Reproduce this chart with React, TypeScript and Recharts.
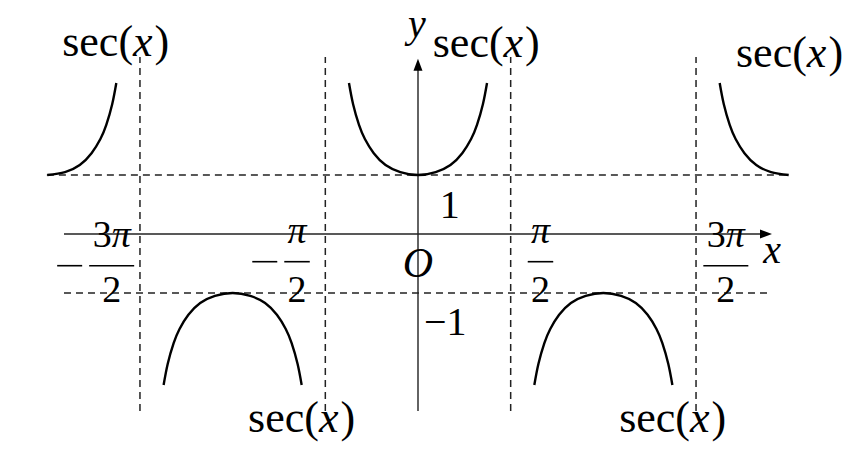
import { ComposedChart, Line, XAxis, YAxis, ReferenceLine, ReferenceDot } from "recharts";

const FONT = "Liberation Serif, DejaVu Serif, serif";
const INK = "#000";
const GUIDE = "#222";

// visible window of the plot (one unit is ~59px both ways)
const X_DOMAIN: [number, number] = [-7.0847, 7.4576];
const Y_DOMAIN: [number, number] = [-3.8475, 3.9661];

// sec(x) branches
const farLeftX = [-6.2832, -5.9832, -5.7332, -5.5332, -5.3832, -5.2832, -5.1832, -5.1132];
const farLeftY = [1, 1.05, 1.17, 1.37, 1.61, 1.85, 2.2, 2.56];

const negLeftX = [-4.3116, -4.2416, -4.1416, -4.0416, -3.8916, -3.6916, -3.4416, -3.1416, -2.8416, -2.5916, -2.3916, -2.2416, -2.1416, -2.0416, -1.9716];
const negLeftY = [-2.56, -2.2, -1.85, -1.61, -1.37, -1.17, -1.05, -1, -1.05, -1.17, -1.37, -1.61, -1.85, -2.2, -2.56];

const middleX = [-1.17, -1.1, -1.0, -0.9, -0.75, -0.55, -0.3, 0, 0.3, 0.55, 0.75, 0.9, 1.0, 1.1, 1.17];
const middleY = [2.56, 2.2, 1.85, 1.61, 1.37, 1.17, 1.05, 1, 1.05, 1.17, 1.37, 1.61, 1.85, 2.2, 2.56];

const negRightX = [1.9716, 2.0416, 2.1416, 2.2416, 2.3916, 2.5916, 2.8416, 3.1416, 3.4416, 3.6916, 3.8916, 4.0416, 4.1416, 4.2416, 4.3116];
const negRightY = [-2.56, -2.2, -1.85, -1.61, -1.37, -1.17, -1.05, -1, -1.05, -1.17, -1.37, -1.61, -1.85, -2.2, -2.56];

const farRightX = [5.1132, 5.1832, 5.2832, 5.3832, 5.5332, 5.7332, 5.9832, 6.2832];
const farRightY = [2.56, 2.2, 1.85, 1.61, 1.37, 1.17, 1.05, 1];

// asymptotes and their tick labels
const asymptotes = [-4.7124, -1.5708, 1.5708, 4.7124];
const tickNumerators = ["3π", "π", "π", "3π"];
const tickDenominators = ["2", "2", "2", "2"];

// where the "sec(x)" captions sit (left edge, baseline)
const captionX = [-6.03, 0.25, 5.39, -2.88, 3.41];
const captionY = [3.02, 3.0, 2.83, -3.36, -3.36];

const zip = (xs: number[], ys: number[]) => xs.map((x, i) => ({ x, y: ys[i] }));
const branches = [
  zip(farLeftX, farLeftY),
  zip(negLeftX, negLeftY),
  zip(middleX, middleY),
  zip(negRightX, negRightY),
  zip(farRightX, farRightY),
];

function Arrow(props: any) {
  const { x1, y1, x2, y2 } = props;
  const dx = x2 - x1;
  const dy = y2 - y1;
  const len = Math.hypot(dx, dy) || 1;
  const ux = dx / len;
  const uy = dy / len;
  const L = 12;
  const W = 4.5;
  const bx = x2 - ux * L;
  const by = y2 - uy * L;
  const pts = `${x2},${y2} ${bx - uy * W},${by + ux * W} ${bx + uy * W},${by - ux * W}`;
  return (
    <g>
      <line x1={x1} y1={y1} x2={bx + ux * 2} y2={by + uy * 2} stroke={GUIDE} strokeWidth={1.4} />
      <polygon points={pts} fill={INK} />
    </g>
  );
}

function Caption(props: any) {
  const { cx, cy } = props;
  return (
    <text x={cx} y={cy} fill={INK} style={{ fontFamily: FONT, fontSize: 44 }}>
      <tspan>sec(</tspan>
      <tspan fontStyle="italic">x</tspan>
      <tspan dx={2}>)</tspan>
    </text>
  );
}

function Fraction(props: any) {
  const { cx, cy, idx } = props;
  const neg = asymptotes[idx] < 0;
  const wide = tickNumerators[idx].length > 1;
  const center = cx + (neg ? -28.3 : 29.8);
  const barW = wide ? 45 : 25.5;
  const barY = cy + (wide ? 31.7 : 27.7);
  const numY = cy + (wide ? 13 : 9.5);
  const denY = cy + 68;
  const left = center - barW / 2;
  return (
    <g fill={INK} style={{ fontFamily: FONT, fontSize: 38 }}>
      {neg && <line x1={left - 32} x2={left - 7} y1={barY} y2={barY} stroke={INK} strokeWidth={1.6} />}
      <text x={center} y={numY} textAnchor="middle">
        {wide && <tspan>3</tspan>}
        <tspan fontStyle="italic">π</tspan>
      </text>
      <line x1={left} x2={left + barW} y1={barY} y2={barY} stroke={INK} strokeWidth={1.6} />
      <text x={center} y={denY} textAnchor="middle">
        {tickDenominators[idx]}
      </text>
    </g>
  );
}

function Plain(props: any) {
  const { cx, cy, text, italic, anchor, size } = props;
  return (
    <text
      x={cx}
      y={cy}
      textAnchor={anchor ?? "start"}
      fill={INK}
      style={{ fontFamily: FONT, fontSize: size ?? 40, fontStyle: italic ? "italic" : "normal" }}
    >
      {text}
    </text>
  );
}

export default function App() {
  return (
    <div style={{ position: "absolute", left: 0, top: 0, width: 858, height: 461, background: "#fff" }}>
      <ComposedChart width={858} height={461} margin={{ top: 0, right: 0, bottom: 0, left: 0 }}>
        <XAxis type="number" dataKey="x" domain={X_DOMAIN} allowDataOverflow hide />
        <YAxis type="number" dataKey="y" domain={Y_DOMAIN} allowDataOverflow hide />

        {/* guide lines */}
        {asymptotes.map((a) => (
          <ReferenceLine
            key={`v${a}`}
            segment={[{ x: a, y: -3 }, { x: a, y: 3 }]}
            stroke={GUIDE}
            strokeWidth={1.5}
            strokeDasharray="7 5"
          />
        ))}
        <ReferenceLine
          segment={[{ x: -6.29, y: 1 }, { x: 6.29, y: 1 }]}
          stroke={GUIDE}
          strokeWidth={1.5}
          strokeDasharray="7 5"
        />
        <ReferenceLine
          segment={[{ x: -6, y: -1 }, { x: 6, y: -1 }]}
          stroke={GUIDE}
          strokeWidth={1.5}
          strokeDasharray="7 5"
        />

        {/* axes */}
        <ReferenceLine segment={[{ x: -6, y: 0 }, { x: 6, y: 0 }]} shape={Arrow} />
        <ReferenceLine segment={[{ x: 0, y: -3 }, { x: 0, y: 2.97 }]} shape={Arrow} />

        {branches.map((b, i) => (
          <Line
            key={i}
            data={b}
            dataKey="y"
            type="natural"
            stroke={INK}
            strokeWidth={2.4}
            dot={false}
            activeDot={false}
            isAnimationActive={false}
          />
        ))}

        {asymptotes.map((a, i) => (
          <ReferenceDot key={`t${a}`} x={a} y={0} r={1} shape={(p: any) => <Fraction {...p} idx={i} />} />
        ))}

        {captionX.map((cx, i) => (
          <ReferenceDot key={`c${i}`} x={cx} y={captionY[i]} r={1} shape={Caption} />
        ))}

        <ReferenceDot x={0.37} y={0.27} r={1} shape={(p: any) => <Plain {...p} text="1" />} />
        <ReferenceDot x={0.1} y={-1.71} r={1} shape={(p: any) => <Plain {...p} text="−1" />} />
        <ReferenceDot x={0} y={-0.73} r={1} shape={(p: any) => <Plain {...p} text="O" italic anchor="middle" size={42} />} />
        <ReferenceDot x={-0.02} y={3.34} r={1} shape={(p: any) => <Plain {...p} text="y" italic anchor="middle" />} />
        <ReferenceDot x={5.85} y={-0.49} r={1} shape={(p: any) => <Plain {...p} text="x" italic />} />
      </ComposedChart>
    </div>
  );
}
